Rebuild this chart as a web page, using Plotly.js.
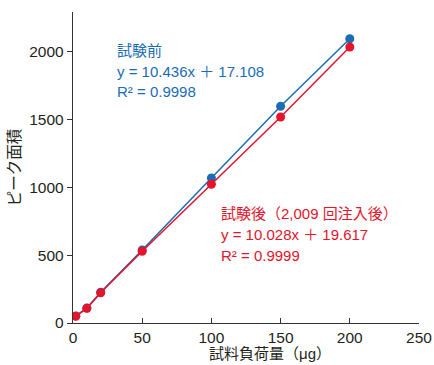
<!DOCTYPE html>
<html><head><meta charset="utf-8">
<script src="https://cdn.plot.ly/plotly-3.0.1.min.js"></script>
<style>html,body{margin:0;padding:0;background:#fff}#c{width:434px;height:365px}</style>
</head><body><div id="c"></div>
<script>
const loads = [2, 10, 20, 50, 100, 150, 200];
const before = [52, 110, 226, 538, 1068, 1596, 2093];
const after = [50, 108, 223, 528, 1022, 1517, 2032];
const xTicks = [0, 50, 100, 150, 200, 250];
const yTicks = [0, 500, 1000, 1500, 2000];
const blue = '#1a6db5', red = '#e5132b';
const F = 'Liberation Sans, Arial, Noto Sans CJK JP, sans-serif';
const traces = [
  {x: loads, y: before, mode: 'lines+markers', line: {color: blue, width: 1.5}, marker: {color: blue, size: 9}},
  {x: loads, y: after, mode: 'lines+markers', line: {color: red, width: 1.5}, marker: {color: red, size: 9}}
];
const ann = (x, y, t, c) => ({xref: 'paper', yref: 'paper', x, y, text: t, showarrow: false, xanchor: 'left', yanchor: 'middle', font: {family: F, size: 15, color: c}});
const px = v => (v - 73) / 346, py = v => (323 - v) / 311;
const layout = {
  width: 434, height: 365, margin: {l: 73, r: 15, t: 12, b: 42},
  showlegend: false, paper_bgcolor: '#fff', plot_bgcolor: '#fff',
  font: {family: F, color: '#231f20', size: 15},
  xaxis: {range: [0, 250], tickvals: xTicks, ticks: 'inside', ticklen: 5, tickcolor: '#333', showline: true, linecolor: '#333', linewidth: 1.2, showgrid: false, zeroline: false, tickfont: {size: 15.5}},
  yaxis: {range: [0, 2290], tickvals: yTicks, ticks: 'outside', ticklen: 5, tickcolor: '#333', showline: true, linecolor: '#333', linewidth: 1.2, showgrid: false, zeroline: false, tickfont: {size: 15.5},
    title: {text: 'ピーク面積', font: {size: 15.5}, standoff: 4}},
  annotations: [
    ann(px(115), py(50), '試験前', blue),
    ann(px(115), py(71), 'y = 10.436x ＋ 17.108', blue),
    ann(px(115), py(91), 'R² = 0.9998', blue),
    ann(px(219), py(213), '試験後（2,009 回注入後）', red),
    ann(px(219), py(234), 'y = 10.028x ＋ 19.617', red),
    ann(px(219), py(256), 'R² = 0.9999', red),
    {xref: 'paper', yref: 'paper', x: px(270), y: py(353), text: '試料負荷量（μg）', showarrow: false, xanchor: 'center', yanchor: 'middle', font: {family: F, size: 15, color: '#231f20'}}
  ]
};
Plotly.newPlot('c', traces, layout, {displayModeBar: false, staticPlot: true});
</script></body></html>
